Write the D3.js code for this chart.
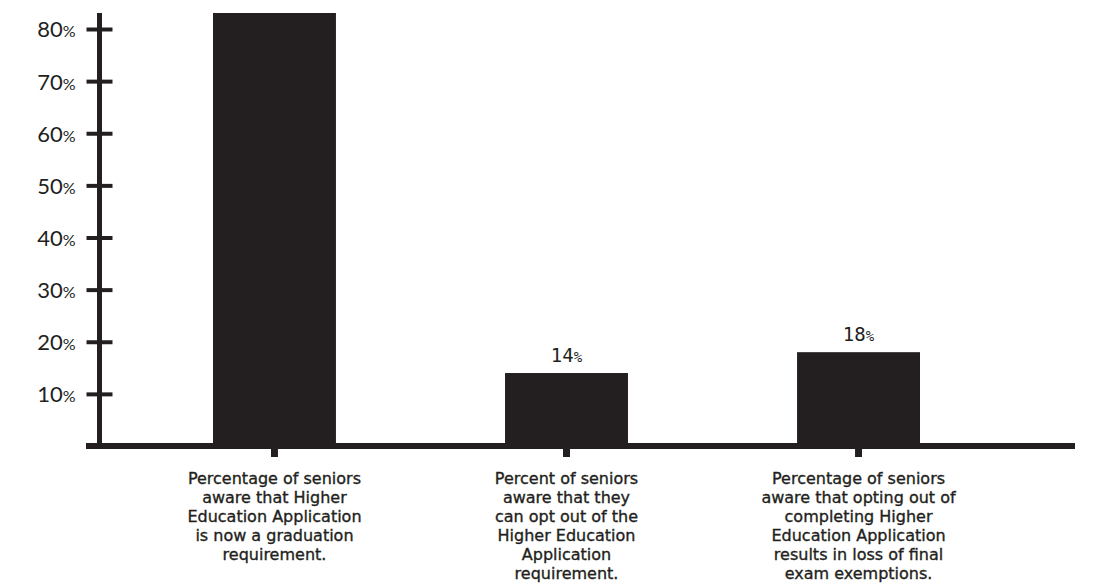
<!DOCTYPE html>
<html>
<head>
<meta charset="utf-8">
<script src="https://cdn.jsdelivr.net/npm/d3@7"></script>
<style>
  html, body { margin: 0; padding: 0; background: #fff; }
  svg { display: block; }
</style>
</head>
<body>
<svg id="chart" width="1098" height="588"></svg>
<script>
// chart data
const categories = [
  "Percentage of seniors\naware that Higher\nEducation Application\nis now a graduation\nrequirement.",
  "Percent of seniors\naware that they\ncan opt out of the\nHigher Education\nApplication\nrequirement.",
  "Percentage of seniors\naware that opting out of\ncompleting Higher\nEducation Application\nresults in loss of final\nexam exemptions."
];
const values = [86, 14, 18];
const yTicks = [10, 20, 30, 40, 50, 60, 70, 80];

const ink = '#231f20';
const svg = d3.select('#chart');

// layout
const axisX = 99.5, baseY = 446, topY = 13;

const x = d3.scaleBand()
  .domain(categories)
  .range([213, 920])
  .paddingInner(0.579)
  .paddingOuter(0);

const y = d3.scaleLinear()
  .domain([0, 80])
  .range([baseY, 29]);

// clip so the tall bar runs off the top like the original
svg.append('clipPath').attr('id', 'plot-clip')
  .append('rect')
  .attr('x', 0).attr('y', topY)
  .attr('width', 1098).attr('height', baseY - topY);

const plot = svg.append('g').attr('clip-path', 'url(#plot-clip)');

plot.selectAll('.bar')
  .data(values)
  .enter()
  .append('rect')
  .attr('class', 'bar')
  .attr('x', (d, i) => x(categories[i]))
  .attr('y', d => y(d))
  .attr('width', x.bandwidth())
  .attr('height', d => baseY - y(d))
  .attr('fill', ink);

// value labels (only where they fall inside the plot, the tall one runs off)
const labelled = values
  .map((v, i) => ({ v, cat: categories[i] }))
  .filter(d => y(d.v) - 30 > topY);

svg.selectAll('.value-label')
  .data(labelled)
  .enter()
  .append('text')
  .attr('class', 'value-label')
  .attr('x', d => x(d.cat) + x.bandwidth() / 2)
  .attr('y', d => y(d.v) - 11)
  .attr('text-anchor', 'middle')
  .style('font-family', '"DejaVu Sans Mono", monospace')
  .style('font-size', '19px')
  .style('fill', ink)
  .each(function(d) {
    const t = d3.select(this);
    t.append('tspan').text(d.v);
    t.append('tspan').style('font-size', '14px').text('%');
  });

// y axis
const yAxis = d3.axisLeft(y)
  .tickValues(yTicks)
  .tickSizeOuter(0)
  .tickSize(13)
  .tickPadding(11);

const yg = svg.append('g')
  .attr('transform', `translate(${axisX},0)`)
  .call(yAxis);

yg.select('.domain').remove();
yg.selectAll('.tick line')
  .attr('x1', -13).attr('x2', 13)
  .attr('stroke', ink)
  .attr('stroke-width', 4);

yg.selectAll('.tick text')
  .text(null)
  .attr('dy', '0.36em')
  .style('font-family', 'Lato, "Noto Sans", sans-serif')
  .style('font-size', '22px')
  .style('fill', ink)
  .each(function(d) {
    const t = d3.select(this);
    t.append('tspan').text(d);
    t.append('tspan').style('font-size', '16px').text('%');
  });

// vertical axis line
svg.append('line')
  .attr('x1', axisX).attr('x2', axisX)
  .attr('y1', topY).attr('y2', baseY + 3)
  .attr('stroke', ink)
  .attr('stroke-width', 5);

// horizontal axis line
svg.append('line')
  .attr('x1', 86).attr('x2', 1075)
  .attr('y1', baseY).attr('y2', baseY)
  .attr('stroke', ink)
  .attr('stroke-width', 6);

// small ticks under each bar
svg.selectAll('.x-tick')
  .data(categories)
  .enter()
  .append('line')
  .attr('class', 'x-tick')
  .attr('x1', d => x(d) + x.bandwidth() / 2)
  .attr('x2', d => x(d) + x.bandwidth() / 2)
  .attr('y1', baseY)
  .attr('y2', baseY + 11)
  .attr('stroke', ink)
  .attr('stroke-width', 7);

// category labels
svg.selectAll('.cat-label')
  .data(categories)
  .enter()
  .append('text')
  .attr('class', 'cat-label')
  .attr('x', d => x(d) + x.bandwidth() / 2)
  .attr('y', 484)
  .attr('text-anchor', 'middle')
  .style('font-family', '"DejaVu Sans", sans-serif')
  .style('font-size', '16px')
  .style('fill', ink)
  .style('stroke', ink)
  .style('stroke-width', '0.35px')
  .each(function(d) {
    const t = d3.select(this);
    d.split('\n').forEach((line, i) => {
      t.append('tspan')
        .attr('x', t.attr('x'))
        .attr('dy', i === 0 ? 0 : 19)
        .text(line);
    });
  });
</script>
</body>
</html>
